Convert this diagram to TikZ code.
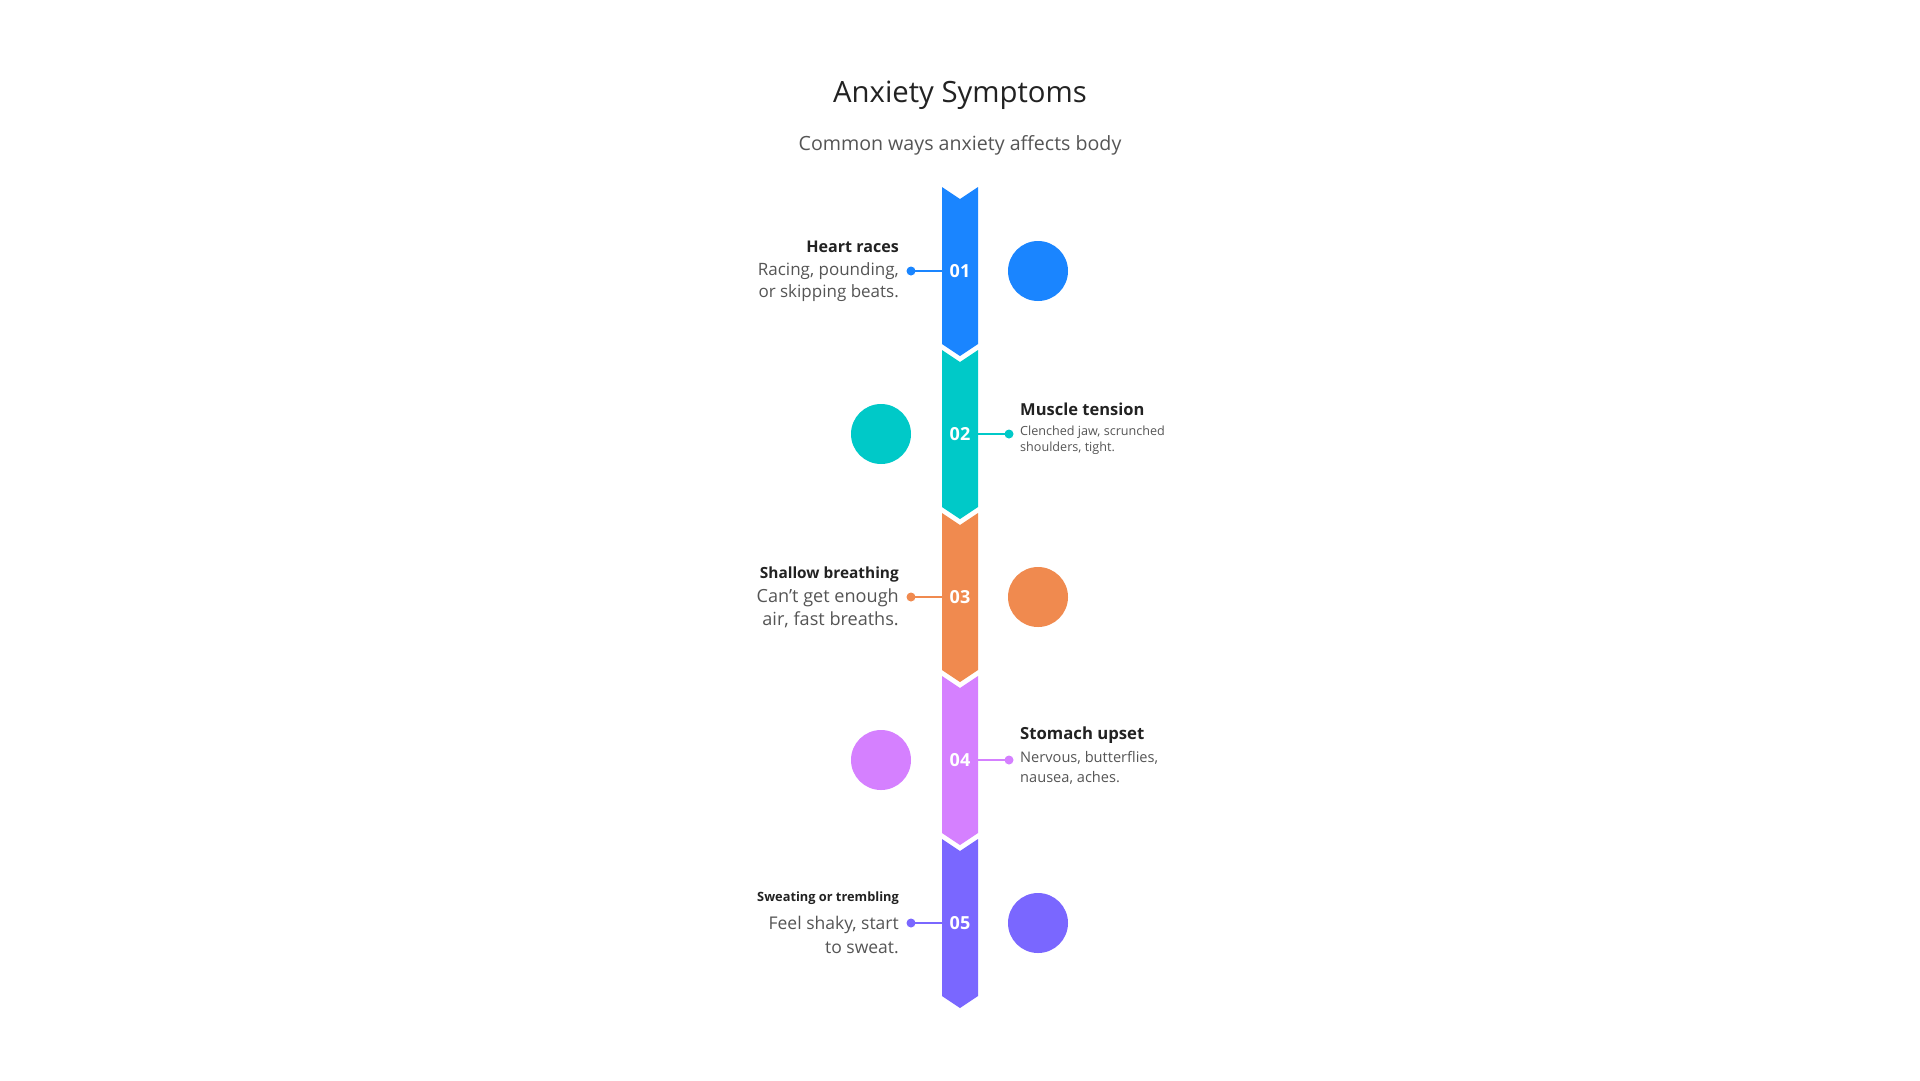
\documentclass[tikz,border=0pt]{standalone}
\usepackage{fontspec}
\setmainfont{Open Sans}
\definecolor{cA}{HTML}{1A85FF}
\definecolor{cB}{HTML}{00C9C8}
\definecolor{cC}{HTML}{F08A4F}
\definecolor{cD}{HTML}{D580FF}
\definecolor{cE}{HTML}{7A67FF}
\definecolor{ink}{HTML}{222222}
\definecolor{grayink}{HTML}{555555}
\tikzset{
  seg/.style={fill=#1, draw=none},
  numtxt/.style={text=white, font=\fontsize{18}{20}\selectfont\bfseries, inner sep=0pt},
  bigdot/.style={circle, fill=#1, minimum size=60pt, inner sep=0pt},
  smalldot/.style={circle, fill=#1, minimum size=9pt, inner sep=0pt},
  conn/.style={draw=#1, line width=2pt},
  headL/.style={anchor=east, text=ink, inner sep=0pt, align=right},
  headR/.style={anchor=west, text=ink, inner sep=0pt, align=left},
  bodyL/.style={anchor=east, text=grayink, inner sep=0pt, align=right},
  bodyR/.style={anchor=west, text=grayink, inner sep=0pt, align=left},
}
\begin{document}
\begin{tikzpicture}[x=1pt,y=-1pt]
\useasboundingbox[fill=white] (0,0) rectangle (1920,1080);
% title
\node[text=ink, inner sep=0pt, font=\fontsize{29.3}{32}\selectfont] (title) at (960,95) {Anxiety Symptoms};
\node[text=grayink, inner sep=0pt, font=\fontsize{19.6}{22}\selectfont] (subtitle) at (960,145) {Common ways anxiety affects body};
% segments
\foreach \i/\c in {0/cA,1/cB,2/cC,3/cD,4/cE}{
  \pgfmathsetmacro{\yy}{187+163*\i}
  \fill[seg=\c] (942,\yy) -- (960,\yy+12) -- (978,\yy) -- (978,\yy+157) -- (960,\yy+169) -- (942,\yy+157) -- cycle;
}
% numbers
\node[numtxt] (n1) at (960,271) {01};
\node[numtxt] (n2) at (960,434) {02};
\node[numtxt] (n3) at (960,597) {03};
\node[numtxt] (n4) at (960,760) {04};
\node[numtxt] (n5) at (960,923) {05};
\coordinate (e1) at (942,271);
\coordinate (e2) at (978,434);
\coordinate (e3) at (942,597);
\coordinate (e4) at (978,760);
\coordinate (e5) at (942,923);
% circles
\node[bigdot=cA] (c1) at (1038,271) {};
\node[bigdot=cB] (c2) at (881,434) {};
\node[bigdot=cC] (c3) at (1038,597) {};
\node[bigdot=cD] (c4) at (881,760) {};
\node[bigdot=cE] (c5) at (1038,923) {};
% connector dots
\node[smalldot=cA] (d1) at (911,271) {};
\node[smalldot=cB] (d2) at (1009,434) {};
\node[smalldot=cC] (d3) at (911,597) {};
\node[smalldot=cD] (d4) at (1009,760) {};
\node[smalldot=cE] (d5) at (911,923) {};
\draw[conn=cA] (d1.center) -- (e1);
\draw[conn=cB] (d2.center) -- (e2);
\draw[conn=cC] (d3.center) -- (e3);
\draw[conn=cD] (d4.center) -- (e4);
\draw[conn=cE] (d5.center) -- (e5);
% texts 1
\node[headL, font=\fontsize{16.1}{20}\selectfont\bfseries] (h1) at (899,247) {Heart races};
\node[bodyL, font=\fontsize{17}{22}\selectfont] (b1) at (899,282) {Racing, pounding,\\or skipping beats.};
% texts 2
\node[headR, font=\fontsize{16.5}{20}\selectfont\bfseries] (h2) at (1020,409) {Muscle tension};
\node[bodyR, font=\fontsize{12.6}{16}\selectfont] (b2) at (1020,440) {Clenched jaw, scrunched\\shoulders, tight.};
% texts 3
\node[headL, font=\fontsize{15.4}{20}\selectfont\bfseries] (h3) at (899,574) {Shallow breathing};
\node[bodyL, font=\fontsize{18.1}{23}\selectfont] (b3) at (899,608.5) {Can't get enough\\air, fast breaths.};
% texts 4
\node[headR, font=\fontsize{16.7}{20}\selectfont\bfseries] (h4) at (1020,735) {Stomach upset};
\node[bodyR, font=\fontsize{14.6}{20}\selectfont] (b4) at (1020,768) {Nervous, butterflies,\\nausea, aches.};
% texts 5
\node[headL, font=\fontsize{12.8}{16}\selectfont\bfseries] (h5) at (899,898) {Sweating or trembling};
\node[bodyL, font=\fontsize{17.5}{24}\selectfont] (b5) at (899,934.5) {Feel shaky, start\\to sweat.};
\end{tikzpicture}
\end{document}
